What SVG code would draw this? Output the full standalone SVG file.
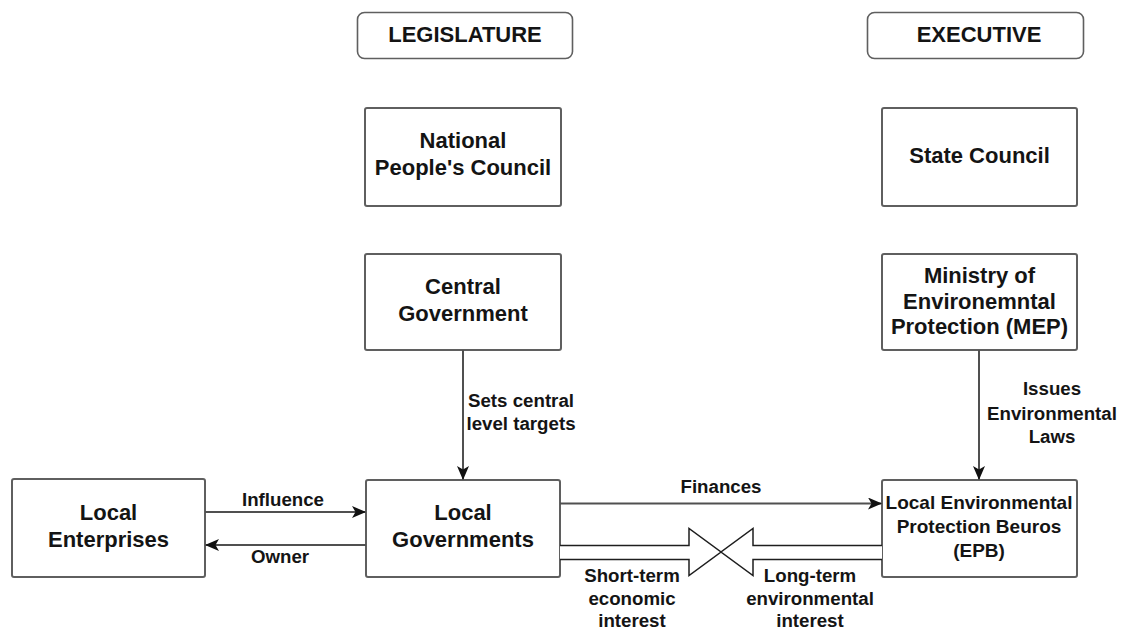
<svg xmlns="http://www.w3.org/2000/svg" width="1123" height="629" viewBox="0 0 1123 629">
  <defs>
    <style>
      .box { fill: #ffffff; stroke: #5f5f5f; stroke-width: 2; }
      .hdr { fill: #ffffff; stroke: #5f5f5f; stroke-width: 1.6; }
      .t { font-family: "Liberation Sans", Arial, Helvetica, sans-serif; font-weight: bold; fill: #141414; text-anchor: middle; }
      .big { font-size: 22px; }
      .mid { font-size: 19px; }
      .lbl { font-size: 18.7px; }
      .edge { fill: none; stroke: #505050; stroke-width: 2; }
      .block { fill: #ffffff; stroke: #1e1e1e; stroke-width: 1.5; stroke-linejoin: miter; }
    </style>
    <marker id="arrow" viewBox="0 0 14 12" refX="13" refY="6" markerWidth="14" markerHeight="12" markerUnits="userSpaceOnUse" orient="auto">
      <path d="M0,0 L14,6 L0,12 L3.5,6 Z" fill="#111111"/>
    </marker>
  </defs>

  <!-- column headers -->
  <g id="legislature">
    <rect class="hdr" x="357.5" y="12.5" width="215" height="46" rx="7"/>
    <text class="t big" x="465" y="42">LEGISLATURE</text>
  </g>
  <g id="executive">
    <rect class="hdr" x="867.5" y="12.5" width="216" height="46" rx="7"/>
    <text class="t big" x="979" y="42">EXECUTIVE</text>
  </g>

  <!-- legislature column -->
  <g id="npc">
    <rect class="box" x="365" y="108" width="196" height="98" rx="2"/>
    <text class="t big" x="463" y="148">National</text>
    <text class="t big" x="463" y="175">People's Council</text>
  </g>
  <g id="central-government">
    <rect class="box" x="365" y="254" width="196" height="96" rx="2"/>
    <text class="t big" x="463" y="294">Central</text>
    <text class="t big" x="463" y="321">Government</text>
  </g>
  <g id="local-governments">
    <rect class="box" x="366" y="480" width="194" height="97" rx="2"/>
    <text class="t big" x="463" y="520">Local</text>
    <text class="t big" x="463" y="547">Governments</text>
  </g>
  <g id="local-enterprises">
    <rect class="box" x="12" y="479" width="193" height="98" rx="2"/>
    <text class="t big" x="108.5" y="520">Local</text>
    <text class="t big" x="108.5" y="547">Enterprises</text>
  </g>

  <!-- executive column -->
  <g id="state-council">
    <rect class="box" x="882" y="108" width="195" height="98" rx="2"/>
    <text class="t big" x="979.5" y="163">State Council</text>
  </g>
  <g id="mep">
    <rect class="box" x="882" y="254" width="195" height="96" rx="2"/>
    <text class="t big" x="979.5" y="283">Ministry of</text>
    <text class="t big" x="979.5" y="308.5">Environemntal</text>
    <text class="t big" x="979.5" y="334">Protection (MEP)</text>
  </g>
  <g id="epb">
    <rect class="box" x="882" y="480" width="195" height="97" rx="2"/>
    <text class="t mid" x="979" y="509">Local Environmental</text>
    <text class="t mid" x="979" y="533">Protection Beuros</text>
    <text class="t mid" x="979" y="557">(EPB)</text>
  </g>

  <!-- connectors -->
  <g id="connectors">
    <line class="edge" x1="463" y1="350" x2="463" y2="479" marker-end="url(#arrow)"/>
    <line class="edge" x1="979" y1="350" x2="979" y2="479" marker-end="url(#arrow)"/>
    <line class="edge" x1="205" y1="512" x2="365" y2="512" marker-end="url(#arrow)"/>
    <line class="edge" x1="366" y1="545" x2="206" y2="545" marker-end="url(#arrow)"/>
    <line class="edge" x1="560" y1="503.5" x2="881" y2="503.5" marker-end="url(#arrow)"/>

    <!-- opposing block arrows meeting tip to tip -->
    <path class="block" d="M560,545.5 L689,545.5 L689,528.5 L721,552 L689,575.5 L689,559.5 L560,559.5"/>
    <path class="block" d="M882,545.5 L753,545.5 L753,528.5 L721,552 L753,575.5 L753,559.5 L882,559.5"/>

    <text class="t lbl" x="521" y="407">Sets central</text>
    <text class="t lbl" x="521" y="430">level targets</text>
    <text class="t lbl" x="1052" y="395">Issues</text>
    <text class="t lbl" x="1052" y="420">Environmental</text>
    <text class="t lbl" x="1052" y="443">Laws</text>
    <text class="t lbl" x="283" y="506">Influence</text>
    <text class="t lbl" x="280" y="563">Owner</text>
    <text class="t lbl" x="721" y="493">Finances</text>
    <text class="t lbl" x="632" y="582">Short-term</text>
    <text class="t lbl" x="632" y="605">economic</text>
    <text class="t lbl" x="632" y="627">interest</text>
    <text class="t lbl" x="810" y="582">Long-term</text>
    <text class="t lbl" x="810" y="605">environmental</text>
    <text class="t lbl" x="810" y="627">interest</text>
  </g>
</svg>
